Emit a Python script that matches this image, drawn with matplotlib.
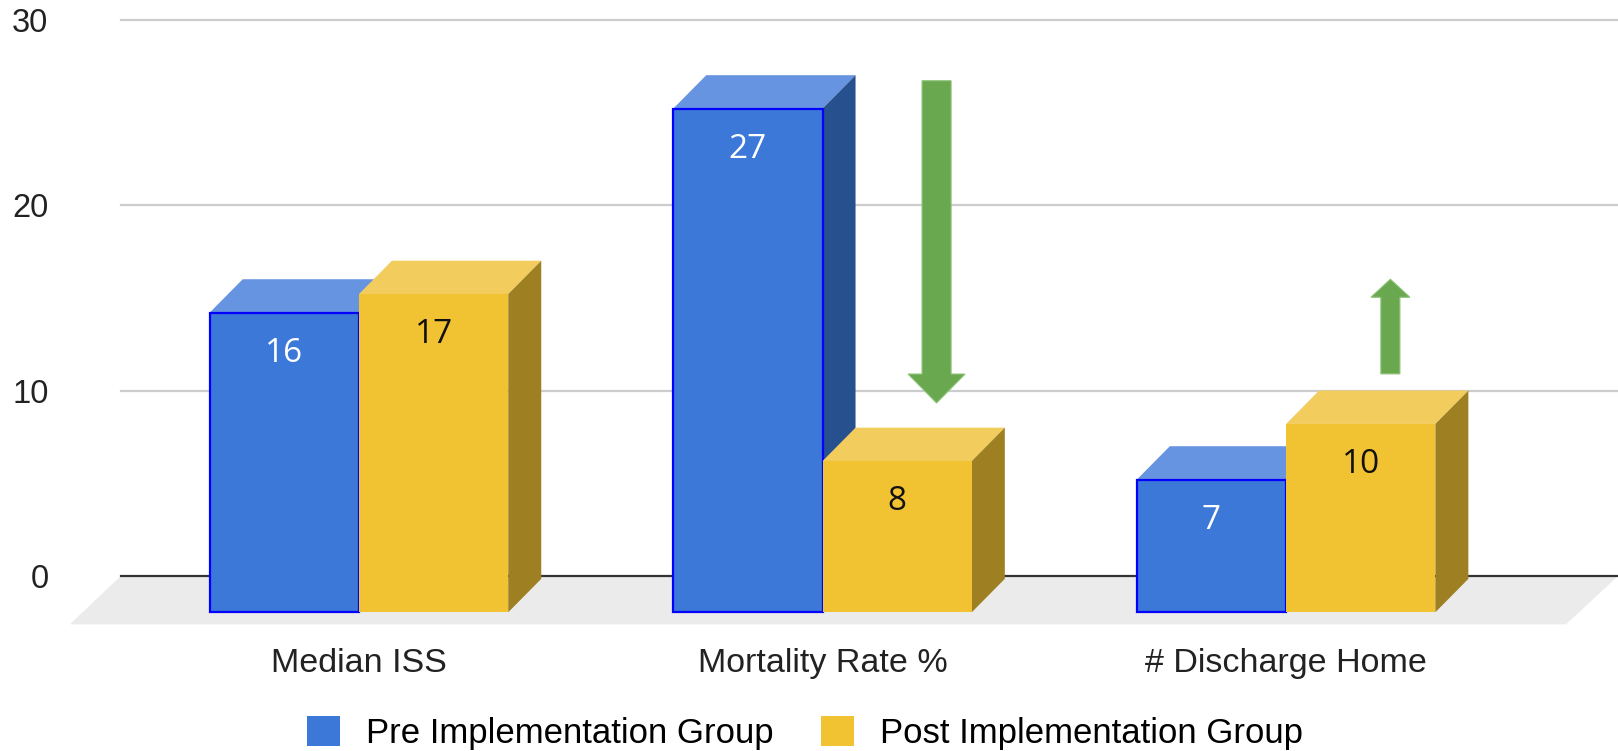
import matplotlib.pyplot as plt
from matplotlib.patches import Polygon, Patch, FancyArrow

categories = ["Median ISS", "Mortality Rate %", "# Discharge Home"]
series_names = ["Pre Implementation Group", "Post Implementation Group"]
pre_values = [16, 27, 7]
post_values = [17, 8, 10]
y_ticks = [0, 10, 20, 30]

# (front, top, side) shades per series
shades = [("#3c78d8", "#6694e0", "#27508e"),
          ("#f1c232", "#f2cc5c", "#9e7f22")]
label_colors = ["white", "#111111"]

fig = plt.figure(figsize=(16.18, 7.51), dpi=100)
ax = fig.add_axes([0.0746, 0.165, 0.9254, 0.809])
ax.set_xlim(-0.514, 2.716)
ax.set_ylim(-2.75, 30)

w = 0.322      # bar width
dx = 0.0712    # depth shift in x
dy = 1.8       # depth shift in y
base = -1.95   # bottom of the front faces

# floor under the bars
ax.add_patch(Polygon([(-0.514, 0), (2.716, 0), (2.604, -2.6), (-0.6235, -2.6)],
                     closed=True, facecolor="#ebebeb", edgecolor="none",
                     zorder=1, clip_on=False))

# gridlines on the back wall
for t in y_ticks:
    ax.axhline(t, color="#333333" if t == 0 else "#cccccc",
               lw=1.6, zorder=2, clip_on=False)

for j in range(len(categories)):
    for i, vals in enumerate([pre_values, post_values]):
        v = vals[j]
        x0 = j - w if i == 0 else j
        front_c, top_c, side_c = shades[i]
        top = [(x0, v - dy), (x0 + w, v - dy), (x0 + w + dx, v), (x0 + dx, v)]
        side = [(x0 + w, base), (x0 + w, v - dy), (x0 + w + dx, v),
                (x0 + w + dx, base + dy)]
        z = 3 + 2 * i
        ax.add_patch(Polygon(top, closed=True, facecolor=top_c, edgecolor="none",
                             zorder=z, clip_on=False))
        ax.add_patch(Polygon(side, closed=True, facecolor=side_c, edgecolor="none",
                             zorder=z, clip_on=False))
        ax.add_patch(plt.Rectangle((x0, base), w, v - dy - base, facecolor=front_c,
                                   edgecolor="#0000ff" if i == 0 else "none",
                                   lw=1.6, zorder=z + 0.5, clip_on=False))
        ax.text(x0 + w / 2, v - dy - 2.2, str(v), ha="center", va="center",
                fontsize=24, family="Open Sans", color=label_colors[i],
                zorder=10)

# change arrows
arrow_kw = dict(length_includes_head=True, facecolor="#6aa84f",
                edgecolor="#8cc276", lw=0.8, zorder=12)
ax.add_patch(FancyArrow(1.246, 26.7, 0, 9.33 - 26.7, width=0.0626,
                        head_width=0.123, head_length=1.56, **arrow_kw))
ax.add_patch(FancyArrow(2.225, 10.9, 0, 16.0 - 10.9, width=0.041,
                        head_width=0.084, head_length=0.97, **arrow_kw))

ax.set_yticks(y_ticks)
ax.set_yticklabels([str(t) for t in y_ticks], fontsize=23.5,
                   family="Liberation Sans", color="#222222")
ax.set_xticks(range(len(categories)))
ax.set_xticklabels(categories, fontsize=24.5, family="Liberation Sans",
                   color="#222222")
ax.tick_params(axis="y", length=0, pad=52)
ax.tick_params(axis="x", length=0, pad=15)
for s in ax.spines.values():
    s.set_visible(False)
ax.patch.set_visible(False)

handles = [Patch(facecolor=shades[0][0], edgecolor="none"),
           Patch(facecolor=shades[1][0], edgecolor="none")]
fig.legend(handles, series_names, loc="center", bbox_to_anchor=(0.4975, 0.024),
           ncol=2, frameon=False, prop={"family": "Liberation Sans", "size": 25},
           handlelength=0.95, handleheight=0.95, handletextpad=0.75,
           columnspacing=1.35)

fig.savefig("out.png", dpi=100)
